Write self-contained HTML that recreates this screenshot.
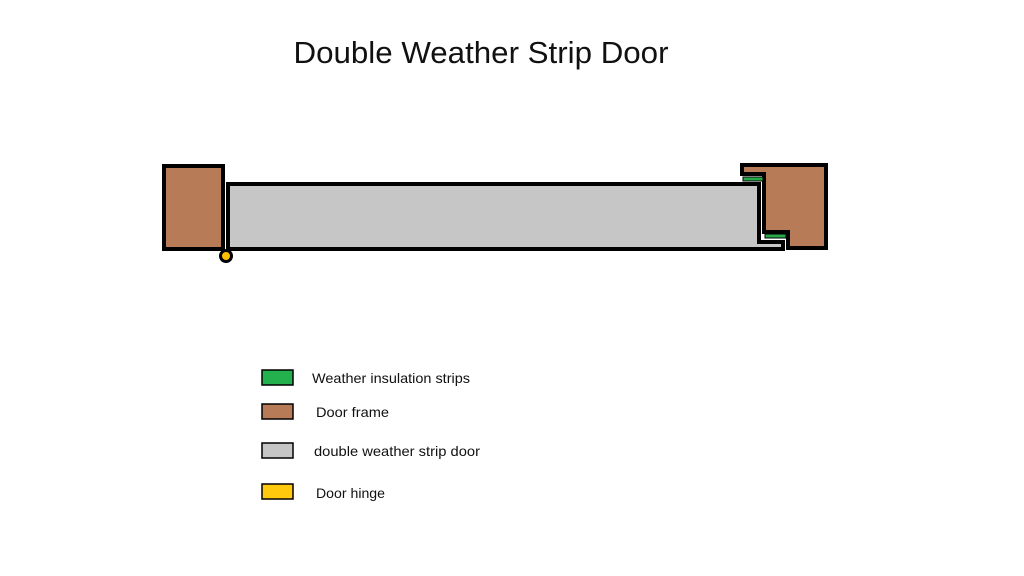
<!DOCTYPE html>
<html><head><meta charset="utf-8"><style>
html,body{margin:0;padding:0;background:#fff;width:1024px;height:576px;overflow:hidden}
svg{display:block}
text{font-family:"Liberation Sans",sans-serif;fill:#111}
</style></head><body>
<svg width="1024" height="576" viewBox="0 0 1024 576">
<text x="481" y="63" font-size="31" text-anchor="middle" textLength="375" lengthAdjust="spacingAndGlyphs">Double Weather Strip Door</text>
<rect x="164" y="166" width="59" height="83" fill="#b87b58" stroke="#000" stroke-width="4"/>
<polygon points="228,184 759,184 759,242 783,242 783,249 228,249" fill="#c6c6c6" stroke="#000" stroke-width="4"/>
<polygon points="742,165 826,165 826,248 788,248 788,232 764,232 764,174 742,174" fill="#b87b58" stroke="#000" stroke-width="4"/>
<rect x="743" y="177" width="20" height="4" fill="#27a84a" stroke="#000" stroke-width="1"/>
<rect x="765" y="234" width="21" height="4" fill="#27a84a" stroke="#000" stroke-width="1"/>
<circle cx="226" cy="256" r="5.5" fill="#ffc000" stroke="#000" stroke-width="3"/>
<rect x="262" y="370" width="31" height="15" fill="#22b14c" stroke="#000" stroke-width="1.5"/>
<rect x="262" y="404" width="31" height="15" fill="#b87b58" stroke="#000" stroke-width="1.5"/>
<rect x="262" y="443" width="31" height="15" fill="#c6c6c6" stroke="#000" stroke-width="1.5"/>
<rect x="262" y="484" width="31" height="15" fill="#ffc90e" stroke="#000" stroke-width="1.5"/>
<text x="312" y="383" font-size="14" textLength="158" lengthAdjust="spacingAndGlyphs">Weather insulation strips</text>
<text x="316" y="417" font-size="14" textLength="73" lengthAdjust="spacingAndGlyphs">Door frame</text>
<text x="314" y="456" font-size="14" textLength="166" lengthAdjust="spacingAndGlyphs">double weather strip door</text>
<text x="316" y="498" font-size="14" textLength="69" lengthAdjust="spacingAndGlyphs">Door hinge</text>
</svg>
</body></html>
